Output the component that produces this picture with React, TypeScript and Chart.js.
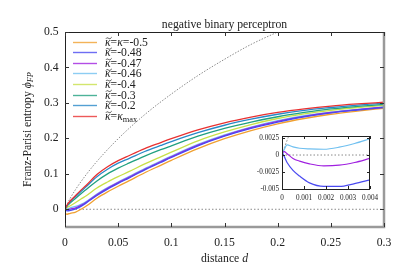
import React, { useEffect, useRef } from "react";
import { Chart, registerables } from "chart.js";

Chart.register(...registerables);

// ---------- data ----------
const TITLE = "negative binary perceptron";

const D = [0, 0.002, 0.005, 0.01, 0.015, 0.02, 0.03, 0.04, 0.05, 0.06, 0.075, 0.09, 0.1, 0.125, 0.15, 0.175, 0.2, 0.225, 0.25, 0.275, 0.3];
const K_MAX = [0, 0.012, 0.024, 0.039, 0.054, 0.068, 0.098, 0.12, 0.137, 0.151, 0.171, 0.188, 0.199, 0.224, 0.244, 0.26, 0.273, 0.283, 0.291, 0.297, 0.302];
const K_020 = [0, 0.011, 0.022, 0.036, 0.05, 0.064, 0.092, 0.113, 0.13, 0.143, 0.163, 0.18, 0.191, 0.216, 0.237, 0.254, 0.268, 0.279, 0.287, 0.294, 0.299];
const K_030 = [0, 0.009, 0.018, 0.031, 0.044, 0.056, 0.08, 0.1, 0.116, 0.13, 0.15, 0.168, 0.179, 0.206, 0.228, 0.246, 0.261, 0.273, 0.283, 0.29, 0.296];
const K_040 = [0, 0.005, 0.01, 0.019, 0.029, 0.038, 0.06, 0.077, 0.092, 0.106, 0.128, 0.148, 0.161, 0.193, 0.218, 0.239, 0.256, 0.269, 0.279, 0.287, 0.293];
const K_046 = [0, 0.0008, 0.004, 0.008, 0.014, 0.022, 0.043, 0.061, 0.077, 0.092, 0.115, 0.136, 0.15, 0.183, 0.21, 0.232, 0.25, 0.264, 0.274, 0.282, 0.289];
const K_047 = [0, -0.0016, 0.0005, 0.004, 0.011, 0.02, 0.041, 0.059, 0.075, 0.09, 0.113, 0.134, 0.148, 0.181, 0.208, 0.23, 0.248, 0.262, 0.273, 0.281, 0.288];
const K_048 = [0, -0.0046, -0.003, 0.001, 0.008, 0.018, 0.039, 0.057, 0.073, 0.088, 0.111, 0.132, 0.146, 0.179, 0.206, 0.228, 0.246, 0.261, 0.272, 0.28, 0.287];
const K_050 = [-0.012, -0.014, -0.0115, -0.008, 0.0, 0.009, 0.031, 0.049, 0.065, 0.08, 0.103, 0.124, 0.138, 0.171, 0.199, 0.222, 0.241, 0.256, 0.268, 0.277, 0.285];

const ENT_D = [0, 0.001, 0.0025, 0.005, 0.01, 0.02, 0.03, 0.05, 0.075, 0.1, 0.125, 0.15, 0.175, 0.2, 0.22];
const ENT = [0, 0.0079, 0.0175, 0.0315, 0.056, 0.098, 0.135, 0.199, 0.267, 0.325, 0.377, 0.423, 0.465, 0.5, 0.527];

const X_TICKS = [0, 0.05, 0.1, 0.15, 0.2, 0.25, 0.3];
const X_LABELS = ["0", "0.05", "0.1", "0.15", "0.2", "0.25", "0.3"];
const Y_TICKS = [0, 0.1, 0.2, 0.3, 0.4, 0.5];
const Y_LABELS = ["0", "0.1", "0.2", "0.3", "0.4", "0.5"];

const LEGEND_VALUES = ["-0.5", "-0.48", "-0.47", "-0.46", "-0.4", "-0.3", "-0.2", "max"];

// inset
const IN_D = [0, 0.0001, 0.00023, 0.0005, 0.0008, 0.00125, 0.0019, 0.0026, 0.0033, 0.004];
const IN_046 = [0, 0.0008, 0.0015, 0.0012, 0.001, 0.0009, 0.00085, 0.00115, 0.0017, 0.0024];
const IN_047 = [0.00035, 0.0005, 0.0002, -0.0005, -0.0009, -0.0013, -0.0016, -0.0015, -0.0011, -0.0005];
const IN_048 = [0.0004, -0.0002, -0.0011, -0.00225, -0.0031, -0.0041, -0.00462, -0.00462, -0.0042, -0.00365];
const IN_ENT_D = [0, 0.0001, 0.0002, 0.0003, 0.0004];
const IN_ENT = [0, 0.00102, 0.0019, 0.00273, 0.0035];
const IN_X_TICKS = [0, 0.001, 0.002, 0.003, 0.004];
const IN_X_LABELS = ["0", "0.001", "0.002", "0.003", "0.004"];
const IN_Y_TICKS = [0.0025, 0, -0.0025, -0.005];
const IN_Y_LABELS = ["0.0025", "0", "-0.0025", "-0.005"];

// ---------- styles ----------
const SERIF = '"Liberation Serif", "DejaVu Serif", serif';
const FS = 11.7;
const COL = {
  k050: "#f0a030",
  k048: "#4a4af0",
  k047: "#a020e0",
  k046: "#70c0f0",
  k040: "#c8e048",
  k030: "#20a080",
  k020: "#2888c8",
  kmax: "#e83030",
};
const LEGEND_COLORS = [COL.k050, COL.k048, COL.k047, COL.k046, COL.k040, COL.k030, COL.k020, COL.kmax];

const pts = (xs: number[], ys: number[]) => xs.map((x, i) => ({ x, y: ys[i] }));

const line = (data: any, color: string, width = 1.3, dash: number[] = []) => ({
  data,
  borderColor: color,
  borderWidth: width,
  borderDash: dash,
  pointRadius: 0,
  fill: false,
  cubicInterpolationMode: "monotone" as const,
});

type Part = { t: string; italic?: boolean; sub?: boolean; tilde?: boolean };
function drawRich(ctx: CanvasRenderingContext2D, x: number, y: number, parts: Part[], size: number) {
  let cx = x;
  for (const p of parts) {
    const s = p.sub ? size * 0.72 : size;
    ctx.font = `${p.italic ? "italic " : ""}${s}px ${SERIF}`;
    const yy = p.sub ? y + size * 0.28 : y;
    ctx.fillText(p.t, cx, yy);
    const w = ctx.measureText(p.t).width;
    if (p.tilde) {
      const c = cx + w / 2 + 1;
      const ty = yy - size * 0.4;
      const hw = size * 0.24;
      ctx.save();
      ctx.strokeStyle = ctx.fillStyle as string;
      ctx.lineWidth = 0.8;
      ctx.beginPath();
      ctx.moveTo(c - hw, ty + 0.6);
      ctx.bezierCurveTo(c - hw * 0.5, ty - 1.4, c + hw * 0.1, ty + 1.2, c + hw * 0.2, ty + 0.6);
      ctx.bezierCurveTo(c + hw * 0.5, ty + 1.6, c + hw * 0.8, ty - 0.6, c + hw, ty - 0.8);
      ctx.stroke();
      ctx.restore();
    }
    cx += w;
  }
  return cx - x;
}
function richWidth(ctx: CanvasRenderingContext2D, parts: Part[], size: number) {
  let w = 0;
  for (const p of parts) {
    const s = p.sub ? size * 0.72 : size;
    ctx.font = `${p.italic ? "italic " : ""}${s}px ${SERIF}`;
    w += ctx.measureText(p.t).width;
  }
  return w;
}

const mainDecor = {
  id: "mainDecor",
  afterDraw(chart: any) {
    const ctx: CanvasRenderingContext2D = chart.ctx;
    const { left, right, top, bottom } = chart.chartArea;
    const xs = chart.scales.x;
    const ys = chart.scales.y;
    ctx.save();
    // borders
    ctx.strokeStyle = "#9a9a9a";
    ctx.lineWidth = 2.5;
    ctx.beginPath();
    ctx.moveTo(left, bottom);
    ctx.lineTo(right, bottom);
    ctx.lineTo(right, top);
    ctx.stroke();
    ctx.strokeStyle = "#222";
    ctx.lineWidth = 1;
    ctx.beginPath();
    ctx.moveTo(left + 0.5, bottom);
    ctx.lineTo(left + 0.5, top + 0.5);
    ctx.lineTo(right, top + 0.5);
    ctx.stroke();
    // ticks
    ctx.strokeStyle = "#333";
    ctx.lineWidth = 1;
    const tl = 4;
    X_TICKS.forEach((v) => {
      const px = Math.round(xs.getPixelForValue(v)) + 0.5;
      ctx.beginPath();
      ctx.moveTo(px, bottom);
      ctx.lineTo(px, bottom - tl);
      ctx.moveTo(px, top);
      ctx.lineTo(px, top + tl);
      ctx.stroke();
    });
    Y_TICKS.forEach((v) => {
      const py = Math.round(ys.getPixelForValue(v)) + 0.5;
      ctx.beginPath();
      ctx.moveTo(left, py);
      ctx.lineTo(left + tl, py);
      ctx.moveTo(right, py);
      ctx.lineTo(right - tl, py);
      ctx.stroke();
    });
    // tick labels
    ctx.fillStyle = "#222";
    ctx.font = `${FS}px ${SERIF}`;
    ctx.textBaseline = "middle";
    ctx.textAlign = "center";
    X_TICKS.forEach((v, i) => ctx.fillText(X_LABELS[i], xs.getPixelForValue(v), 243));
    ctx.textAlign = "right";
    Y_TICKS.forEach((v, i) => ctx.fillText(Y_LABELS[i], 58.5, ys.getPixelForValue(v)));
    // title
    ctx.textAlign = "center";
    ctx.font = `${FS}px ${SERIF}`;
    ctx.fillText(TITLE, (left + right) / 2, 25);
    // x title
    ctx.textAlign = "left";
    ctx.textBaseline = "middle";
    const xt: Part[] = [{ t: "distance " }, { t: "d", italic: true }];
    const xw = richWidth(ctx, xt, FS);
    drawRich(ctx, (left + right) / 2 - xw / 2, 259, xt, FS);
    // y title
    ctx.save();
    ctx.translate(28, (top + bottom) / 2);
    ctx.rotate(-Math.PI / 2);
    const yt: Part[] = [{ t: "Franz-Parisi entropy " }, { t: "ϕ", italic: true }, { t: "FP", italic: true, sub: true }];
    const yw = richWidth(ctx, yt, FS);
    drawRich(ctx, -yw / 2, 0, yt, FS);
    ctx.restore();
    // legend
    const y0 = 41.7;
    const dy = 10.57;
    LEGEND_VALUES.forEach((val, i) => {
      const y = y0 + i * dy;
      ctx.strokeStyle = LEGEND_COLORS[i];
      ctx.globalAlpha = 0.8;
      ctx.lineWidth = 1.4;
      ctx.beginPath();
      ctx.moveTo(73, Math.round(y) + 0.5);
      ctx.lineTo(97, Math.round(y) + 0.5);
      ctx.stroke();
      ctx.globalAlpha = 1;
      ctx.fillStyle = "#222";
      ctx.textBaseline = "middle";
      ctx.textAlign = "left";
      const parts: Part[] = [{ t: "κ", italic: true, tilde: true }];
      if (i === 0) {
        parts.push({ t: "=" }, { t: "κ", italic: true }, { t: "=" + val });
      } else if (val === "max") {
        parts.push({ t: "=" }, { t: "κ", italic: true }, { t: val, sub: true });
      } else {
        parts.push({ t: "=" + val });
      }
      drawRich(ctx, 105, y + 1, parts, FS);
    });
    ctx.restore();
  },
};

const insetDecor = {
  id: "insetDecor",
  afterDraw(chart: any) {
    const ctx: CanvasRenderingContext2D = chart.ctx;
    const { left, right, top, bottom } = chart.chartArea;
    const xs = chart.scales.x;
    const ys = chart.scales.y;
    ctx.save();
    ctx.strokeStyle = "#222";
    ctx.lineWidth = 1;
    ctx.strokeRect(left + 0.5, top + 0.5, right - left - 1, bottom - top);
    const tl = 3;
    IN_X_TICKS.forEach((v) => {
      const px = Math.round(xs.getPixelForValue(v)) + 0.5;
      ctx.beginPath();
      ctx.moveTo(px, bottom);
      ctx.lineTo(px, bottom - tl);
      ctx.moveTo(px, top);
      ctx.lineTo(px, top + tl);
      ctx.stroke();
    });
    IN_Y_TICKS.forEach((v) => {
      const py = Math.round(ys.getPixelForValue(v)) + 0.5;
      ctx.beginPath();
      ctx.moveTo(left, py);
      ctx.lineTo(left + tl, py);
      ctx.moveTo(right, py);
      ctx.lineTo(right - tl, py);
      ctx.stroke();
    });
    ctx.fillStyle = "#222";
    ctx.font = `7.2px ${SERIF}`;
    ctx.textBaseline = "middle";
    ctx.textAlign = "center";
    IN_X_TICKS.forEach((v, i) => ctx.fillText(IN_X_LABELS[i], xs.getPixelForValue(v), bottom + 9));
    ctx.textAlign = "right";
    IN_Y_TICKS.forEach((v, i) => ctx.fillText(IN_Y_LABELS[i], left - 3, ys.getPixelForValue(v)));
    ctx.restore();
  },
};

export default function App() {
  const mainRef = useRef<HTMLCanvasElement>(null);
  const insetRef = useRef<HTMLCanvasElement>(null);

  useEffect(() => {
    const main = new Chart(mainRef.current!, {
      type: "line",
      data: {
        datasets: [
          line(pts(D, K_MAX), COL.kmax),
          line(pts(D, K_020), COL.k020),
          line(pts(D, K_030), COL.k030),
          line(pts(D, K_040), COL.k040),
          line(pts(D, K_048), COL.k048),
          line(pts(D, K_047), COL.k047),
          line(pts(D, K_046), COL.k046),
          line(pts(D, K_050), COL.k050),
          line(pts(ENT_D, ENT), "#8a8a8a", 1, [1.5, 1.5]),
          line(pts([0, 0.3], [0, 0]), "#8a8a8a", 1, [1.5, 2]),
        ] as any,
      },
      options: {
        animation: false,
        responsive: false,
        events: [],
        layout: { padding: { left: 65, top: 32, right: 23, bottom: 44 } },
        plugins: { legend: { display: false }, tooltip: { enabled: false }, title: { display: false } },
        scales: {
          x: { type: "linear", min: 0, max: 0.3, display: false },
          y: { type: "linear", min: -0.05, max: 0.5, display: false },
        },
      },
      plugins: [mainDecor],
    });

    const inset = new Chart(insetRef.current!, {
      type: "line",
      data: {
        datasets: [
          line(pts(IN_D, IN_048), COL.k048, 1.2),
          line(pts(IN_D, IN_047), COL.k047, 1.2),
          line(pts(IN_D, IN_046), COL.k046, 1.2),
          line(pts(IN_ENT_D, IN_ENT), "#8a8a8a", 0.8, [2, 1.5]),
          line(pts([0, 0.004], [0, 0]), "#8a8a8a", 1, [1.5, 2]),
        ] as any,
      },
      options: {
        animation: false,
        responsive: false,
        events: [],
        layout: { padding: { left: 34, top: 8, right: 10, bottom: 17 } },
        plugins: { legend: { display: false }, tooltip: { enabled: false }, title: { display: false } },
        scales: {
          x: { type: "linear", min: 0, max: 0.004, display: false },
          y: { type: "linear", min: -0.005, max: 0.0028, display: false },
        },
      },
      plugins: [insetDecor],
    });

    return () => {
      main.destroy();
      inset.destroy();
    };
  }, []);

  return (
    <div style={{ position: "fixed", left: 0, top: 0, width: 407, height: 271, background: "#fff" }}>
      <canvas
        ref={mainRef}
        width={407}
        height={271}
        style={{ position: "absolute", left: 0, top: 0, width: 407, height: 271 }}
      />
      <canvas
        ref={insetRef}
        width={132}
        height={78}
        style={{ position: "absolute", left: 248, top: 128, width: 132, height: 78 }}
      />
    </div>
  );
}
